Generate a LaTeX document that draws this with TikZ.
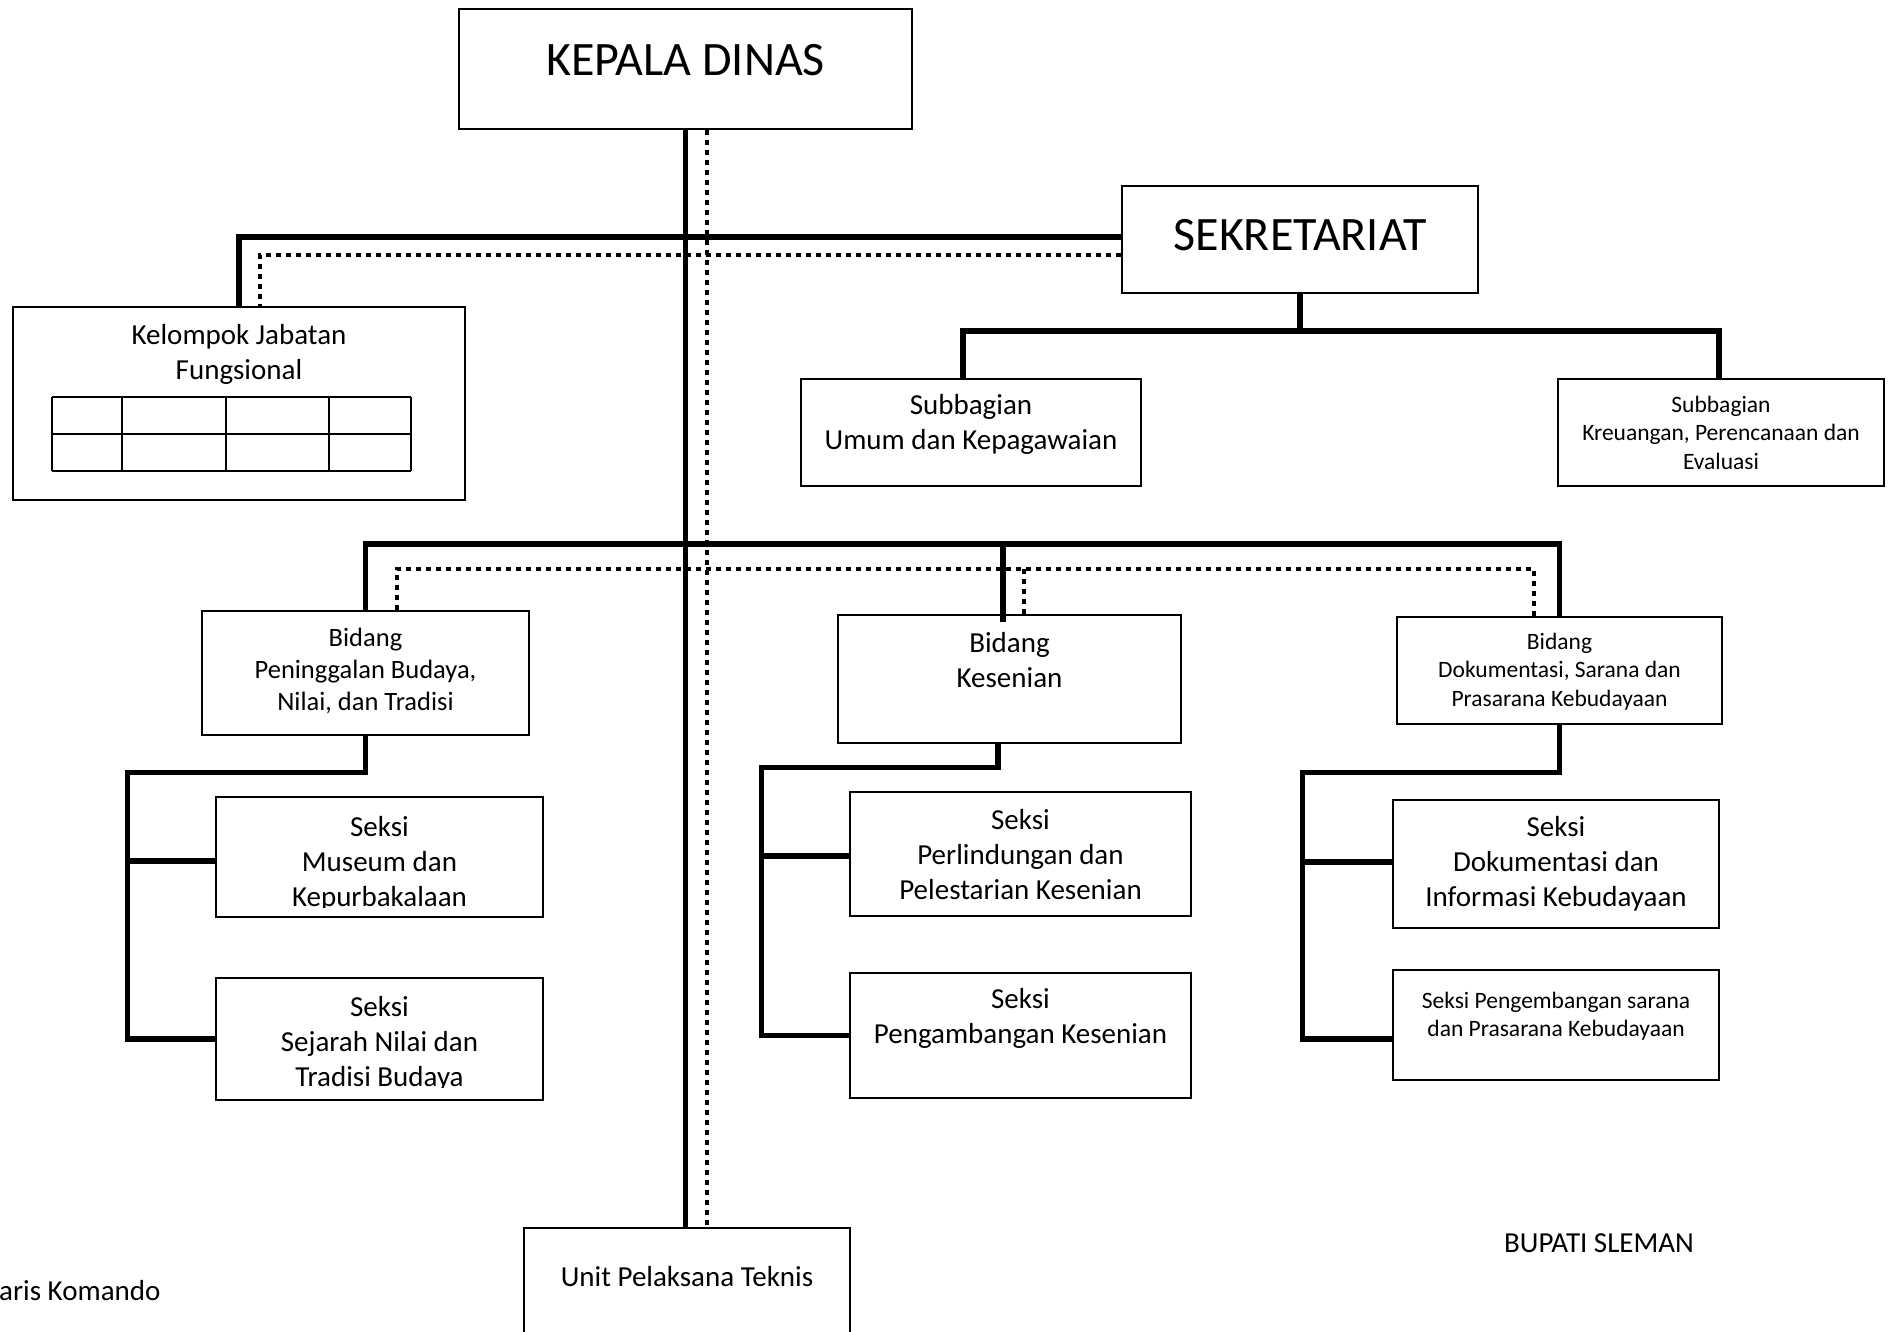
\documentclass[tikz,border=0pt]{standalone}
\usepackage{fontspec}
\setmainfont{Carlito}
\usetikzlibrary{positioning}

\begin{document}
\begin{tikzpicture}[x=1pt, y=-1pt,
  box/.style={draw, line width=1.5pt, fill=white, inner sep=0pt},
  lbl/.style={inner sep=0pt, align=center, font=\fontsize{29}{35}\selectfont},
  smalltext/.style={font=\fontsize{23.5}{28.5}\selectfont},
  midtext/.style={font=\fontsize{26.5}{32}\selectfont},
  bigtext/.style={font=\fontsize{48}{58}\selectfont},
  komando/.style={line width=5.4pt},
  koordinasi/.style={line width=4pt, dash pattern=on 5pt off 5pt},
  tabel/.style={line width=1.5pt}]
\useasboundingbox (0,0) rectangle (1895,1332);
%
% pimpinan
\node[box, lbl, bigtext, text depth=18pt, minimum width=453pt, minimum height=120pt] (kepala) at (685.5,69) {KEPALA DINAS};
\node[box, lbl, bigtext, text depth=10pt, minimum width=356pt, minimum height=107pt] (sekretariat) at (1300,239.5) {SEKRETARIAT};
%
\node[box, minimum width=452pt, minimum height=193pt] (kelompok) at (239,403.5) {};
\node[lbl, below=18pt of kelompok.north] (kelompoklbl) {Kelompok Jabatan\\Fungsional};
\foreach \x in {52,122,226,329,411} \draw[tabel] (\x,397) -- (\x,471);
\foreach \y in {397,434,471} \draw[tabel] (52,\y) -- (411,\y);
%
% subbagian
\node[box, minimum width=340pt, minimum height=107pt] (umum) at (971,432.5) {};
\node[lbl, below=16pt of umum.north] (umumlbl) {Subbagian\\Umum dan Kepagawaian};
\node[box, minimum width=326pt, minimum height=107pt] (kreuangan) at (1721,432.5) {};
\node[lbl, smalltext, below=17.5pt of kreuangan.north] (kreuanganlbl) {Subbagian\\Kreuangan, Perencanaan dan\\Evaluasi};
%
% bidang
\node[box, minimum width=327pt, minimum height=124pt] (peninggalan) at (365.5,673) {};
\node[lbl, midtext, below=17.4pt of peninggalan.north] (peninggalanlbl) {Bidang\\Peninggalan Budaya,\\Nilai, dan Tradisi};
\node[box, minimum width=343pt, minimum height=128pt] (kesenian) at (1009.5,679) {};
\node[lbl, below=18pt of kesenian.north] (kesenianlbl) {Bidang\\Kesenian};
\node[box, minimum width=325pt, minimum height=107pt] (dokumentasi) at (1559.5,670.5) {};
\node[lbl, smalltext, below=16.5pt of dokumentasi.north] (dokumentasilbl) {Bidang\\Dokumentasi, Sarana dan\\Prasarana Kebudayaan};
%
% seksi
\node[box, minimum width=327pt, minimum height=120pt] (museum) at (379.5,857) {};
\begin{scope}
  \clip (museum.north west) rectangle ([yshift=10pt]museum.south east);
  \node[lbl, below=20pt of museum.north] (museumlbl) {Seksi\\Museum dan\\Kepurbakalaan};
\end{scope}
\node[box, minimum width=327pt, minimum height=122pt] (sejarah) at (379.5,1039) {};
\begin{scope}
  \clip (sejarah.north west) rectangle ([yshift=13.5pt]sejarah.south east);
  \node[lbl, below=19pt of sejarah.north] (sejarahlbl) {Seksi\\Sejarah Nilai dan\\Tradisi Budaya};
\end{scope}
\node[box, minimum width=341pt, minimum height=124pt] (perlindungan) at (1020.5,854) {};
\node[lbl, below=18pt of perlindungan.north] (perlindunganlbl) {Seksi\\Perlindungan dan\\Pelestarian Kesenian};
\node[box, minimum width=341pt, minimum height=125pt] (pengambangan) at (1020.5,1035.5) {};
\node[lbl, below=16pt of pengambangan.north] (pengambanganlbl) {Seksi\\Pengambangan Kesenian};
\node[box, minimum width=326pt, minimum height=128pt] (seksidok) at (1556,864) {};
\node[lbl, below=17pt of seksidok.north] (seksidoklbl) {Seksi\\Dokumentasi dan\\Informasi Kebudayaan};
\node[box, minimum width=326pt, minimum height=110pt] (pengsarana) at (1556,1025) {};
\node[lbl, smalltext, below=22.5pt of pengsarana.north] (pengsaranalbl) {Seksi Pengembangan sarana\\dan Prasarana Kebudayaan};
%
\node[box, anchor=north, minimum width=326pt, minimum height=140pt] (unit) at (687,1227) {};
\node[lbl, below=39pt of unit.north] (unitlbl) {Unit Pelaksana Teknis};
%
\node[lbl, anchor=base west] (garislbl) at (-1,1300) {aris Komando};
\node[lbl, anchor=base west] (bupati) at (1504,1252) {BUPATI SLEMAN};
%
% garis komando dan koordinasi
\coordinate (sekbus) at (1300,331);
\coordinate (bidbus) at (685.5,544);
\coordinate (bidbusk) at (707,569);
\coordinate (kesdrop) at ([xshift=-6.5pt]kesenian.north);
\coordinate (kesdropk) at ([xshift=14.5pt]kesenian.north);
\draw[komando] (kepala.south) -- (kepala.south |- unit.north);
\draw[koordinasi] ([xshift=21.5pt]kepala.south) -- ([xshift=21.5pt]kepala.south |- unit.north);
\draw[komando] ([yshift=2.5pt]sekretariat.west) -| (kelompok.north);
\draw[koordinasi] ([yshift=-15.5pt]sekretariat.west) -| ([xshift=21pt]kelompok.north);
\draw[komando] (sekretariat.south) -- (sekbus);
\draw[komando] ([xshift=-8pt]umum.north) |- (sekbus) -| ([xshift=-2pt]kreuangan.north);
\draw[komando] (peninggalan.north) |- (bidbus) -| (dokumentasi.north);
\draw[komando] ([yshift=-8pt]kesdrop) -- (kesdrop |- bidbus);
\draw[koordinasi] ([xshift=31.5pt]peninggalan.north) |- (bidbusk) -| ([xshift=-25.5pt]dokumentasi.north);
\draw[koordinasi] (kesdropk) -- (kesdropk |- bidbusk);
%
\draw[komando] (peninggalan.south) -- ++(0,37) -| ([xshift=-88pt]sejarah.west) -- (sejarah.west);
\draw[komando] ([yshift=-4pt]museum.west) -- ++(-88,0);
\draw[komando] ([xshift=-11.5pt]kesenian.south) -- ++(0,24) -| ([xshift=-88pt]pengambangan.west) -- (pengambangan.west);
\draw[komando] ([yshift=-2pt]perlindungan.west) -- ++(-88,0);
\draw[komando] (dokumentasi.south) -- ++(0,48) -| ([xshift=-89.5pt,yshift=-14pt]pengsarana.west) -- ([yshift=-14pt]pengsarana.west);
\draw[komando] ([yshift=2pt]seksidok.west) -- ++(-89.5,0);
\end{tikzpicture}
\end{document}
